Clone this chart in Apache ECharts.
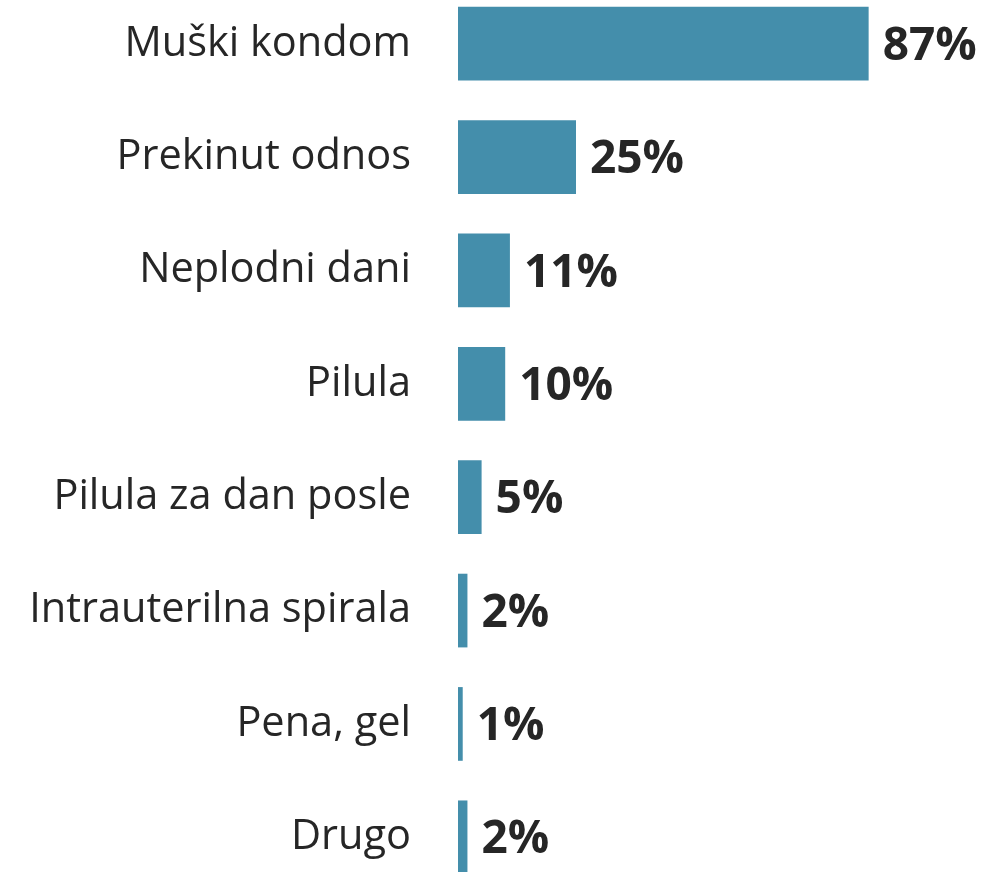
<!DOCTYPE html>
<html>
<head>
<meta charset="utf-8">
<script src="https://cdn.jsdelivr.net/npm/echarts@6/dist/echarts.min.js"></script>
<style>
  html, body { margin: 0; padding: 0; background: #fff; }
  #chart { width: 1007px; height: 872px; }
</style>
</head>
<body>
<div id="chart"></div>
<script>
// top to bottom order as in the picture
const categories = ['Muški kondom', 'Prekinut odnos', 'Neplodni dani', 'Pilula',
  'Pilula za dan posle', 'Intrauterilna spirala', 'Pena, gel', 'Drugo']
const values = [87, 25, 11, 10, 5, 2, 1, 2]

const chart = echarts.init(document.getElementById('chart'))
chart.setOption({
  animation: false,
  grid: {
    left: 458,
    top: -13,
    width: 472,
    height: 907,
    outerBoundsMode: 'none'
  },
  xAxis: {
    type: 'value',
    min: 0,
    max: 100,
    show: false
  },
  yAxis: {
    type: 'category',
    inverse: true,
    data: categories,
    axisLine: { show: false },
    axisTick: { show: false },
    axisLabel: {
      margin: 47,
      color: '#262626',
      fontSize: 41.5,
      fontFamily: 'Open Sans'
    }
  },
  series: [{
    type: 'bar',
    data: values,
    barCategoryGap: '35%',
    itemStyle: { color: '#448eab' },
    label: {
      show: true,
      position: 'right',
      distance: 14,
      offset: [0, 3],
      formatter: '{c}%',
      color: '#262626',
      fontSize: 46,
      fontWeight: 'bold',
      fontFamily: 'Open Sans'
    }
  }]
})
</script>
</body>
</html>
